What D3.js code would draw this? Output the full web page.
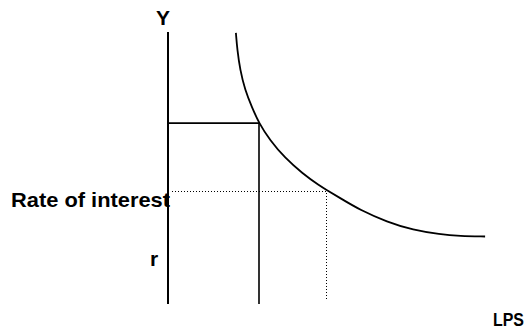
<!DOCTYPE html>
<html>
<head>
<meta charset="utf-8">
<script src="https://cdn.jsdelivr.net/npm/d3@7"></script>
<style>
    html, body { margin: 0; padding: 0; background: #fff; }
    text { font-family: "Liberation Sans", Arial, sans-serif; font-weight: bold; fill: #000; }
</style>
</head>
<body>
<div id="lps-chart"></div>
<script>
// Liquidity preference curve (quantity, rate of interest)
const curveQty  = [1.94, 1.98, 2.06, 2.2, 2.4, 2.6, 2.91, 3.34, 3.83, 4.34, 4.54, 4.91, 5.49, 6.26, 7.0, 7.77, 8.34, 9.06];
const curveRate = [10.04, 9.41, 8.67, 7.93, 7.28, 6.7, 6.07, 5.41, 4.85, 4.37, 4.22, 3.93, 3.48, 3.04, 2.74, 2.58, 2.52, 2.5];

// solid box (upper rate) and dotted guide (rate r)
const boxPoint = [2.6, 6.7];
const rPoint = [4.51, 4.19];

const axisLabels = ["Y", "Rate of interest", "r", "LPS"];

function createLpsChart() {
    const width = 529;
    const height = 333;

    const container = d3.select("#lps-chart");
    container.selectAll("*").remove();

    const svg = container.append("svg")
        .attr("width", width)
        .attr("height", height);

    const x = d3.scaleLinear().domain([0, 10]).range([168, 518]);
    const y = d3.scaleLinear().domain([0, 10]).range([304, 34]);

    // snap thin lines onto the pixel grid so the dots stay dark
    const crisp = v => Math.round(v) + 0.5;

    // Y axis (vertical line only)
    svg.append("line")
        .attr("x1", x(0)).attr("x2", x(0))
        .attr("y1", y(0)).attr("y2", y(10.07))
        .attr("stroke", "#000")
        .attr("stroke-width", 2);

    // box from the axis to the curve
    svg.append("path")
        .attr("d", `M${x(0)},${y(boxPoint[1])}H${x(boxPoint[0])}V${y(0)}`)
        .attr("fill", "none")
        .attr("stroke", "#000")
        .attr("stroke-width", 1.6);

    // dotted guides at r
    svg.append("path")
        .attr("d", `M${x(0.1)},${crisp(y(rPoint[1]))}H${crisp(x(rPoint[0]))}V${y(0.15)}`)
        .attr("fill", "none")
        .attr("stroke", "#000")
        .attr("stroke-width", 1)
        .attr("stroke-dasharray", "1,2")
        .attr("shape-rendering", "crispEdges");

    // the curve
    const line = d3.line()
        .x((d, i) => x(curveQty[i]))
        .y(d => y(d))
        .curve(d3.curveBasis);

    svg.append("path")
        .attr("d", line(curveRate))
        .attr("fill", "none")
        .attr("stroke", "#000")
        .attr("stroke-width", 1.8);

    // labels
    svg.append("text")
        .attr("x", 163).attr("y", 25)
        .attr("text-anchor", "middle")
        .style("font-size", "21px")
        .text(axisLabels[0]);

    svg.append("text")
        .attr("x", 11).attr("y", 207)
        .style("font-size", "21px")
        .attr("textLength", 159)
        .attr("lengthAdjust", "spacingAndGlyphs")
        .text(axisLabels[1]);

    svg.append("text")
        .attr("x", 150).attr("y", 266)
        .style("font-size", "21px")
        .text(axisLabels[2]);

    svg.append("text")
        .attr("x", 493).attr("y", 326)
        .style("font-size", "19px")
        .attr("textLength", 31)
        .attr("lengthAdjust", "spacingAndGlyphs")
        .text(axisLabels[3]);
}

createLpsChart();
</script>
</body>
</html>
